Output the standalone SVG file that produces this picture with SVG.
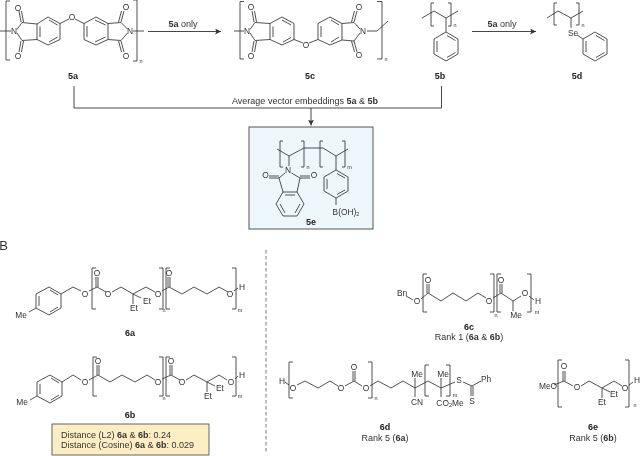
<svg xmlns="http://www.w3.org/2000/svg" width="640" height="456" viewBox="0 0 640 456">
<style>
text{font-family:"Liberation Sans",Arial,sans-serif;font-size:8.4px;fill:#333;text-anchor:middle;dominant-baseline:central}
g[id]{filter:url(#soft)}
.b{fill:none;stroke:#333;stroke-width:.85}
.l{font-size:9px;font-weight:700;fill:#222}
.c{font-size:9px}
.t{font-size:9px;text-anchor:start}
.s{font-size:5.500px}
tspan.h{font-weight:700}
.conn{fill:none;stroke:#333;stroke-width:.9}
.dash{stroke:#777;stroke-width:1;stroke-dasharray:3.500 2.500}
</style>
<defs>
<filter id="soft" filterUnits="userSpaceOnUse" x="0" y="0" width="640" height="456" color-interpolation-filters="sRGB"><feGaussianBlur stdDeviation=".22"/></filter>
<marker id="a" markerWidth="7" markerHeight="6" refX="6" refY="3" orient="auto" markerUnits="userSpaceOnUse"><path d="M0 0L6 3L0 6L1.500 3Z" fill="#333"/></marker></defs>
<rect width="640" height="456" fill="#fff"/>
<g id="connectors" class="conn">
<path d="M148 31.500H221" marker-end="url(#a)"/>
<path d="M472 31.500H536" marker-end="url(#a)"/>
<path d="M74 86V108H441.500V86"/>
<path d="M311 108V125.500" marker-end="url(#a)"/>
<path class="dash" d="M266 250V452"/>
</g>
<g id="labels">
<text x="183" y="24" class="c"><tspan class="h">5a</tspan> only</text>
<text x="502" y="24" class="c"><tspan class="h">5a</tspan> only</text>
<text x="305" y="100.500" class="c">Average vector embeddings <tspan class="h">5a</tspan> &amp; <tspan class="h">5b</tspan></text>
<text x="3.500" y="245.500" style="font-size:13px">B</text>
</g>
<g id="n5a">
<path class="b" d="M10 1H6V60H10M133 0H137V61H133M0 31H11M17 29.500L22 22.500L37 24V39.500L22 40.500L17 33M37 24L48 17L60 23.500V39.500L48 45L37 39.500M60 23.500L69 19M75 19L84 23.500V39.500L96 45L108 39.500V23.500L96 17L84 23.500M108 23.500L121 22.500L127.500 29M108 39.500L121 40.500L127.500 33M133 31H144M21 22L19 11M23.500 22L21.500 11M21 41L19 52M23.500 41L21.500 52M121 22L124 11M118.500 22L121.500 11M121 41L124 52M118.500 41L121.500 52M40 26.500V37M49 20L57.500 25M49 42L57.500 37M87 26V37M95 42L105.500 37M95 20L105.500 25"/>
<text x="14" y="31">N</text><text x="18" y="7.500">O</text><text x="18" y="56">O</text><text x="72" y="17">O</text><text x="130" y="31">N</text><text x="126" y="7">O</text><text x="126" y="56">O</text><text x="141" y="61" class="s">n</text>
<text x="73" y="76" class="l">5a</text>
</g>
<g id="n5c">
<path class="b" d="M244 1.500H240V59H244M234 31H244M250 29.500L255 22.500L270 23.500V39.500L255 40.500L250 33M270 23.500L282 17L294 23.500V39.500M294 39.500L303 43M309 43L318 39.500V23.500L330 17L342 23.500V40L330 45L318 39.500M342 23.500L354 22.500L360 29M342 40L354 41L360 33M367 31H377L388 21M377 1.500H382V59H377M254 22L252 11M256.500 22L254.500 11M254 41L252 52M256.500 41L254.500 52M354 22L357 11M351.500 22L354.500 11M354 41L357 52M351.500 41L354.500 52M273 26.500V37M282 20L291 25M282 45L270 39.500M282 45L294 39.500M283 42L291 37.500M321 26V37M331 20L339 25M331 42L339 37"/>
<text x="247" y="31">N</text><text x="251" y="7">O</text><text x="251" y="56">O</text><text x="306" y="44.700">O</text><text x="363" y="31">N</text><text x="359" y="6.500">O</text><text x="359" y="55">O</text><text x="386" y="59" class="s">n</text>
<text x="310" y="76" class="l">5c</text>
</g>
<g id="n5b">
<path class="b" d="M434 3H431V26H434M448 3H451V26H448M422 18L434 11L446 18L458 11M446 18V32L458 39V54L446 61L434 54V39L446 32M437 41V52M447 35.500L455.500 40.500M447 57.500L455.500 52.500"/>
<text x="455" y="25" class="s">n</text>
<text x="440" y="76" class="l">5b</text>
</g>
<g id="n5d">
<path class="b" d="M557 3H554V25H557M576 3H579V25H576M547 18L558 11L571 18L583 11M571 18V28M577 35L583 39L595 32L607 39V54L595 61L583 54V39M586 41V52M596 35.500L604.500 40.500M596 57.500L604.500 52.500"/>
<text x="573" y="33">Se</text><text x="583" y="25" class="s">n</text>
<text x="577" y="76" class="l">5d</text>
</g>
<g id="n5e">
<rect x="249" y="127" width="124" height="102" fill="#eef7fc" stroke="#555" stroke-width="1"/>
<path class="b" d="M283 141H280V167H283M301 141H304V167H301M323 141H320V167H323M342 141H345V167H342M277 149L289 156L304 148H323L336 156L348 149M289 156V166M285 173L279 178L283 192H297L300 178L291.500 173M283 192L276 204L283 216H297L304 204L297 192M279 178H269M279 176H269M300 178H310M300 176H310M285 195H295M280 204L285 213M300 204L295 213M336 156V170L348 177V191L336 198L324 191V177L336 170M327 179V189M337 173.500L345 178M337 194.500L345 190M336 198V205"/>
<text x="288" y="170">N</text><text x="265.500" y="175">O</text><text x="314" y="175">O</text><text x="308" y="167" class="s">n</text><text x="349.500" y="167" class="s">m</text><text x="346" y="212">B(OH)<tspan dy="1.500" style="font-size:5.500px">2</tspan></text>
<text x="311" y="222" class="l">5e</text>
</g>
<g id="n6a">
<path class="b" d="M29 312L36 308V294L49 287L61 294V308L49 315L36 308M39 296V306M50 290L58 295M50 312L58 307M61 294L73 287L81 291M89 291L97 287L106 292M96 287V277M98 287V277M112 292L121 287L133 294L146 287L155 292M133 294V304M133 294L141 298M162 291L169 287L182 294L194 287L207 294L219 287L228 292M168 287V277M170 287V277M234 291L238 288M96 268H92V309H96M159 268H163V309H159M170 268H166V309H170M232 268H236V309H232"/>
<text x="21" y="315">Me</text><text x="85" y="294">O</text><text x="97" y="273">O</text><text x="108" y="294">O</text><text x="158" y="294">O</text><text x="134" y="308">Et</text><text x="147" y="301">Et</text><text x="169" y="273">O</text><text x="230" y="294">O</text><text x="242" y="287">H</text><text x="164" y="310" class="s">n</text><text x="240" y="309.500" class="s">m</text>
<text x="130" y="333" class="l">6a</text>
</g>
<g id="n6b">
<path class="b" d="M30 400L37 396V382L50 375L62 382V396L50 403L37 396M40 384V394M51 378L59 383M51 400L59 395M62 382L73 375L81 380M89 380L98 375L110 382L122 375L135 382L147 375L155 380M97 375V365M99 375V365M162 379L171 375L180 380M170 375V365M172 375V365M186 380L194 375L207 382L219 375L227 380M207 382V392M207 382L215 386M235 379L238 376M97 357H93V396H97M159 357H163V396H159M170 357H166V396H170M232 357H236V396H232"/>
<text x="22" y="402">Me</text><text x="85" y="382">O</text><text x="98" y="361">O</text><text x="158" y="382">O</text><text x="171" y="361">O</text><text x="182" y="382">O</text><text x="231" y="382">O</text><text x="208" y="395.500">Et</text><text x="220" y="388">Et</text><text x="242" y="375">H</text><text x="164" y="398" class="s">n</text><text x="240" y="396" class="s">m</text>
<text x="130" y="415" class="l">6b</text>
</g>
<g id="distance">
<rect x="52" y="424" width="157" height="31" fill="#fdeec4" stroke="#555" stroke-width=".9"/>
<text x="61" y="434.500" class="t">Distance (L2) <tspan class="h">6a</tspan> &amp; <tspan class="h">6b</tspan>: 0.24</text>
<text x="61" y="444.500" class="t">Distance (Cosine) <tspan class="h">6a</tspan> &amp; <tspan class="h">6b</tspan>: 0.029</text>
</g>
<g id="n6c">
<path class="b" d="M406 296L413 300M421 299L428 293L441 301L453 293L466 301L478 293L486 298M427 293V284M429 293V284M493 298L501 293L513 301L521 296M500 293V284M502 293V284M513 301V311M529 296L534 300M427 274H423V312H427M490 274H494V312H490M501 274H497V312H501M527 274H531V312H527"/>
<text x="402" y="293">Bn</text><text x="417" y="301">O</text><text x="428" y="280">O</text><text x="489" y="301">O</text><text x="501" y="280">O</text><text x="525" y="293">O</text><text x="516" y="315">Me</text><text x="538" y="301">H</text><text x="496" y="315" class="s">n</text><text x="537" y="312" class="s">m</text>
<text x="469" y="327" class="l">6c</text>
<text x="469" y="337" class="c">Rank 1 (<tspan class="h">6a</tspan> &amp; <tspan class="h">6b</tspan>)</text>
</g>
<g id="n6d">
<path class="b" d="M285 382L289 385M297 385L305 381L318 388L330 381L338 386M345 386L354 381L362 386M353 381V371M355 381V371M370 386L378 381L391 388L403 381L415 388L428 381L441 388L455 382M415 388V378M415 388V397M441 388V378M441 388V397M463 382L472 386L481 381M471 386V396M473 386V396M293 362H289V398H293M368 362H372V398H368M429 365H425V396H429M446 365H450V396H446"/>
<text x="282" y="381">H</text><text x="293" y="388">O</text><text x="341" y="388">O</text><text x="354" y="367">O</text><text x="366" y="388">O</text><text x="417" y="374">Me</text><text x="417" y="402">CN</text><text x="443" y="374">Me</text><text x="450" y="403">CO<tspan dy="1.500" style="font-size:5.500px">2</tspan><tspan dy="-1.500">Me</tspan></text><text x="459" y="380">S</text><text x="472" y="401">S</text><text x="376" y="398" class="s">n</text><text x="455" y="395" class="s">m</text><text x="486" y="379">Ph</text>
<text x="385" y="427" class="l">6d</text>
<text x="385" y="438" class="c">Rank 5 (<tspan class="h">6a</tspan>)</text>
</g>
<g id="n6e">
<path class="b" d="M554 385L564 381L573 386M563 381V371M565 381V371M581 386L589 381L602 388L614 381L622 386M602 388V398M602 388L610 392M629 385L633 382M562 360H558V407H562M625 360H629V407H625"/>
<text x="548" y="386">MeO</text><text x="564" y="366">O</text><text x="577" y="387">O</text><text x="625" y="388">O</text><text x="602" y="402">Et</text><text x="614" y="394">Et</text><text x="637" y="380">H</text><text x="635" y="405" class="s">n</text>
<text x="593" y="427" class="l">6e</text>
<text x="593" y="438" class="c">Rank 5 (<tspan class="h">6b</tspan>)</text>
</g>
</svg>
